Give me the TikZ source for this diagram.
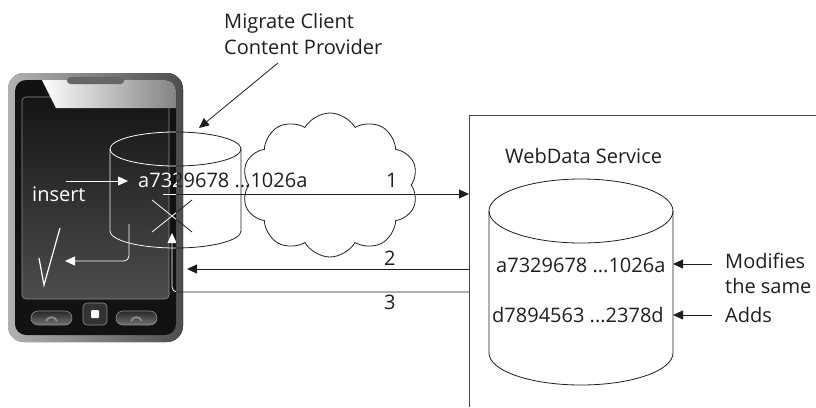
\documentclass[tikz,border=0pt]{standalone}
\usepackage{fontspec}
\setmainfont{Open Sans}
\usetikzlibrary{arrows.meta,shapes.symbols}

\definecolor{ink}{HTML}{1E1E1E}
\definecolor{boxline}{HTML}{4A4A4A}

\tikzset{
    txt/.style={inner sep=0pt, anchor=base west, font=\fontsize{20}{26}\selectfont},
    wire/.style={line width=0.8pt},
    tip/.style={-{Triangle[length=10pt,width=9pt]}},
}

% a database drum: centre x, top y, bottom y, x radius, y radius
\newcommand{\drum}[5]{%
    \draw[wire] (#1,#2) ellipse [x radius=#4pt, y radius=#5pt];
    \draw[wire] (#1-#4,#2) -- (#1-#4,#3)
        arc [start angle=180, end angle=360, x radius=#4pt, y radius=#5pt]
        -- (#1+#4,#2);
}

% the local store and the lines leaving it, drawn once in ink and once in white
\newcommand{\clientstore}{%
    \drum{175.5}{149}{231}{65.5}{17}
    \draw[wire] (152,200) -- (192,232) (192,200) -- (152,232);
    \node[txt] (rowA) at (138,187) {a7329678 ...1026a};
    \draw[wire,tip] (send) -- (srvin);
    \draw[wire,tip,rounded corners=5pt] (ack) -| (drumfoot);
}

\begin{document}
\begin{tikzpicture}[x=1pt,y=-1pt,color=ink]
    \useasboundingbox (0,0) rectangle (816,407);

    % phone
    \fill[left color=black!30, middle color=black!12, right color=black!70, rounded corners=16pt]
        (8,73) rectangle (183,342);
    \fill[black!93, rounded corners=11pt] (15,80) rectangle (176,335);
    \draw[black!45, line width=0.6pt, top color=black!92, bottom color=black!70, rounded corners=4pt]
        (22,97) rectangle (169,299);
    \begin{scope}
        \clip[rounded corners=11pt] (15,80) rectangle (176,335);
        \fill[left color=white, right color=black!50] (40,76) -- (180,76) -- (180,108) -- (56,108) -- cycle;
    \end{scope}
    \fill[black!60, rounded corners=3.5pt] (67,77) rectangle (124,84);
    \foreach \bx in {31,116} {
        \draw[black!45, line width=0.6pt, top color=black!85, bottom color=black!55, rounded corners=7pt]
            (\bx,311) rectangle (\bx+41,325);
        \draw[black!45, line width=1.8pt] (\bx+15,321) .. controls (\bx+17,316) and (\bx+24,316) .. (\bx+26,321);
    }
    \draw[black!45, line width=0.6pt, fill=black!80, rounded corners=4pt] (83,303) rectangle (107,325);
    \fill[white, rounded corners=1pt] (91,310) rectangle (99,318);

    % ends of the connectors
    \coordinate (send) at (163,194);
    \coordinate (srvin) at (469,194);
    \coordinate (back) at (469,269);
    \coordinate (phone) at (187,269);
    \coordinate (ack) at (469,292);
    \coordinate (drumfoot) at (172,233);

    % the network
    \node[cloud, draw, wire, cloud puffs=10, cloud puff arc=120, cloud ignores aspect,
          minimum width=176pt, minimum height=144pt] (net) at (330,185) {};

    % local store on the phone
    \clientstore
    \begin{scope}
        \clip[rounded corners=11pt] (15,80) rectangle (176,335);
        \begin{scope}[color=white]
            \clientstore
        \end{scope}
    \end{scope}
    \draw[wire,tip] (back) -- (phone);

    % what happens on the screen
    \coordinate (insA) at (66,181);
    \coordinate (insB) at (128,181);
    \coordinate (retA) at (129,224);
    \coordinate (retB) at (65,261);
    \node[txt, white] (insert) at (32,201) {insert};
    \draw[white, wire, tip] (insA) -- (insB);
    \draw[white, wire, tip, rounded corners=5pt] (retA) |- (retB);
    \draw[white, line width=1.2pt] (39,258) -- (44,285) -- (60,228);

    \node[txt] (n1) at (386,187) {1};
    \node[txt] (n2) at (384,265) {2};
    \node[txt] (n3) at (384,309) {3};

    % caption of the local store
    \node[txt] (cap1) at (224,28) {Migrate Client};
    \node[txt] (cap2) at (224,54) {Content Provider};
    \coordinate (capfoot) at (278,63);
    \coordinate (drumtop) at (199,128);
    \draw[wire,tip] (capfoot) -- (drumtop);

    % web service
    \draw[boxline, line width=1pt] (469,407) -- (469,115) -- (816,115);
    \node[txt] (svc) at (505,163) {WebData Service};
    \drum{581}{211}{353}{92}{32}
    \node[txt] (rowS1) at (496,272) {a7329678 ...1026a};
    \node[txt] (rowS2) at (492,322) {d7894563 ...2378d};
    \node[txt] (mod1) at (725,268) {Modifies};
    \node[txt] (mod2) at (725,293) {the same};
    \node[txt] (add) at (725,322) {Adds};
    \coordinate (modA) at (712,264);
    \coordinate (modB) at (673,264);
    \coordinate (addA) at (712,315);
    \coordinate (addB) at (673,315);
    \draw[wire,tip] (modA) -- (modB);
    \draw[wire,tip] (addA) -- (addB);
\end{tikzpicture}
\end{document}
